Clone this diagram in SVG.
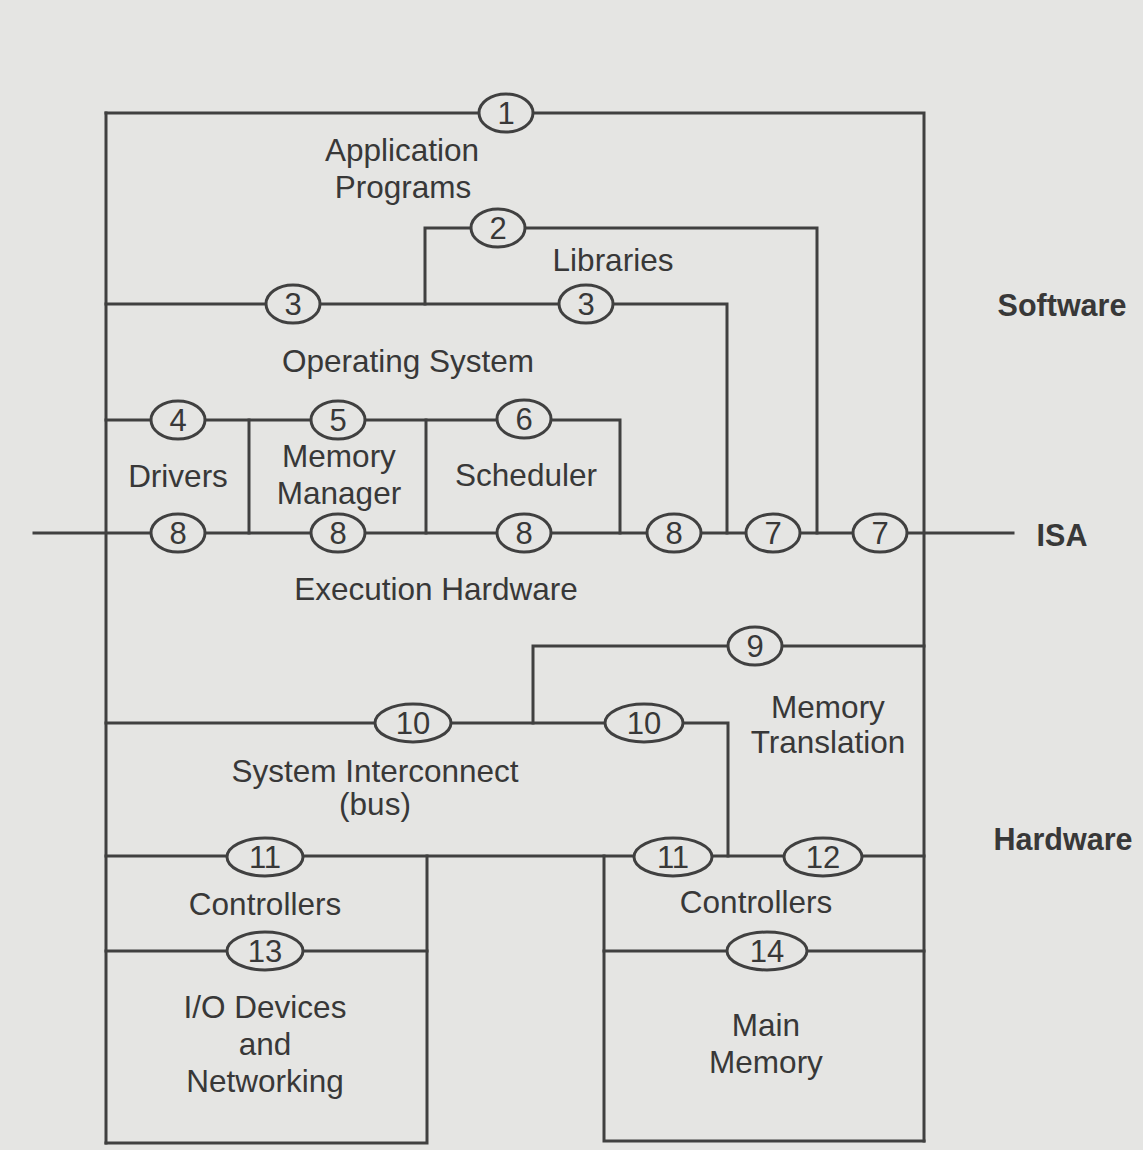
<svg xmlns="http://www.w3.org/2000/svg" width="1143" height="1150" viewBox="0 0 1143 1150">
<style>
.bg{fill:#e5e5e3}
.ln{stroke:#404040;stroke-width:3;fill:none;stroke-linecap:square}
.lb{font-family:"Liberation Sans",Arial,sans-serif;font-size:31.5px;fill:#383838;text-anchor:middle}
.bd{font-family:"Liberation Sans",Arial,sans-serif;font-size:30.5px;font-weight:bold;fill:#383838;text-anchor:middle}
.el{fill:#e5e5e3;stroke:#404040;stroke-width:3}
.num{font-family:"Liberation Sans",Arial,sans-serif;font-size:31px;fill:#383838;text-anchor:middle}
</style>
<rect class="bg" x="0" y="0" width="1143" height="1150"/>
<g id="connectors">
<path class="ln" d="M106,113 H924 V1141"/>
<path class="ln" d="M106,113 V1143"/>
<path class="ln" d="M425,304 V228 H817 V533"/>
<path class="ln" d="M106,304 H727 V533"/>
<path class="ln" d="M106,420 H620 V533"/>
<path class="ln" d="M249,420 V533"/>
<path class="ln" d="M426,420 V533"/>
<path class="ln" d="M34,533 H1013"/>
<path class="ln" d="M533,723 V646 H924"/>
<path class="ln" d="M106,723 H728 V856"/>
<path class="ln" d="M106,856 H924"/>
<path class="ln" d="M427,856 V1143 H106"/>
<path class="ln" d="M106,951 H427"/>
<path class="ln" d="M604,856 V1141 H924"/>
<path class="ln" d="M604,951 H924"/>
</g>
<g id="interfaces">
<g id="if1"><ellipse class="el" cx="506" cy="113" rx="27" ry="19"/><text class="num" x="506" y="124">1</text></g>
<g id="if2"><ellipse class="el" cx="498" cy="228" rx="27" ry="19"/><text class="num" x="498" y="239">2</text></g>
<g id="if3a"><ellipse class="el" cx="293" cy="304" rx="27" ry="19"/><text class="num" x="293" y="315">3</text></g>
<g id="if3b"><ellipse class="el" cx="586" cy="304" rx="27" ry="19"/><text class="num" x="586" y="315">3</text></g>
<g id="if4"><ellipse class="el" cx="178" cy="420" rx="27" ry="19"/><text class="num" x="178" y="431">4</text></g>
<g id="if5"><ellipse class="el" cx="338" cy="420" rx="27" ry="19"/><text class="num" x="338" y="431">5</text></g>
<g id="if6"><ellipse class="el" cx="524" cy="419" rx="27" ry="19"/><text class="num" x="524" y="430">6</text></g>
<g id="if8a"><ellipse class="el" cx="178" cy="533" rx="27" ry="19"/><text class="num" x="178" y="544">8</text></g>
<g id="if8b"><ellipse class="el" cx="338" cy="533" rx="27" ry="19"/><text class="num" x="338" y="544">8</text></g>
<g id="if8c"><ellipse class="el" cx="524" cy="533" rx="27" ry="19"/><text class="num" x="524" y="544">8</text></g>
<g id="if8d"><ellipse class="el" cx="674" cy="533" rx="27" ry="19"/><text class="num" x="674" y="544">8</text></g>
<g id="if7a"><ellipse class="el" cx="773" cy="533" rx="27" ry="19"/><text class="num" x="773" y="544">7</text></g>
<g id="if7b"><ellipse class="el" cx="880" cy="533" rx="27" ry="19"/><text class="num" x="880" y="544">7</text></g>
<g id="if9"><ellipse class="el" cx="755" cy="646" rx="27" ry="19"/><text class="num" x="755" y="657">9</text></g>
<g id="if10a"><ellipse class="el" cx="413" cy="723" rx="38" ry="19"/><text class="num" x="413" y="734">10</text></g>
<g id="if10b"><ellipse class="el" cx="644" cy="723" rx="39" ry="19"/><text class="num" x="644" y="734">10</text></g>
<g id="if11a"><ellipse class="el" cx="265" cy="857" rx="38" ry="19"/><text class="num" x="265" y="868">11</text></g>
<g id="if11b"><ellipse class="el" cx="673" cy="857" rx="39" ry="19"/><text class="num" x="673" y="868">11</text></g>
<g id="if12"><ellipse class="el" cx="823" cy="857" rx="39" ry="19"/><text class="num" x="823" y="868">12</text></g>
<g id="if13"><ellipse class="el" cx="265" cy="951" rx="38" ry="19"/><text class="num" x="265" y="962">13</text></g>
<g id="if14"><ellipse class="el" cx="767" cy="951" rx="40" ry="19"/><text class="num" x="767" y="962">14</text></g>
</g>
<g id="app"><text class="lb" x="402" y="161">Application</text><text class="lb" x="403" y="198">Programs</text></g>
<g id="libraries"><text class="lb" x="613" y="271">Libraries</text></g>
<g id="os"><text class="lb" x="408" y="372">Operating System</text></g>
<g id="drivers"><text class="lb" x="178" y="487">Drivers</text></g>
<g id="memmgr"><text class="lb" x="339" y="467">Memory</text><text class="lb" x="339" y="504">Manager</text></g>
<g id="scheduler"><text class="lb" x="526" y="486">Scheduler</text></g>
<g id="exec"><text class="lb" x="436" y="600">Execution Hardware</text></g>
<g id="memtrans"><text class="lb" x="828" y="718">Memory</text><text class="lb" x="828" y="753">Translation</text></g>
<g id="bus"><text class="lb" x="375" y="782">System Interconnect</text><text class="lb" x="375" y="815">(bus)</text></g>
<g id="ctrl1"><text class="lb" x="265" y="915">Controllers</text></g>
<g id="ctrl2"><text class="lb" x="756" y="913">Controllers</text></g>
<g id="io"><text class="lb" x="265" y="1018">I/O Devices</text><text class="lb" x="265" y="1055">and</text><text class="lb" x="265" y="1092">Networking</text></g>
<g id="mainmem"><text class="lb" x="766" y="1036">Main</text><text class="lb" x="766" y="1073">Memory</text></g>
<g id="side"><text class="bd" x="1062" y="316">Software</text><text class="bd" x="1062" y="546">ISA</text><text class="bd" x="1063" y="850">Hardware</text></g>
</svg>
